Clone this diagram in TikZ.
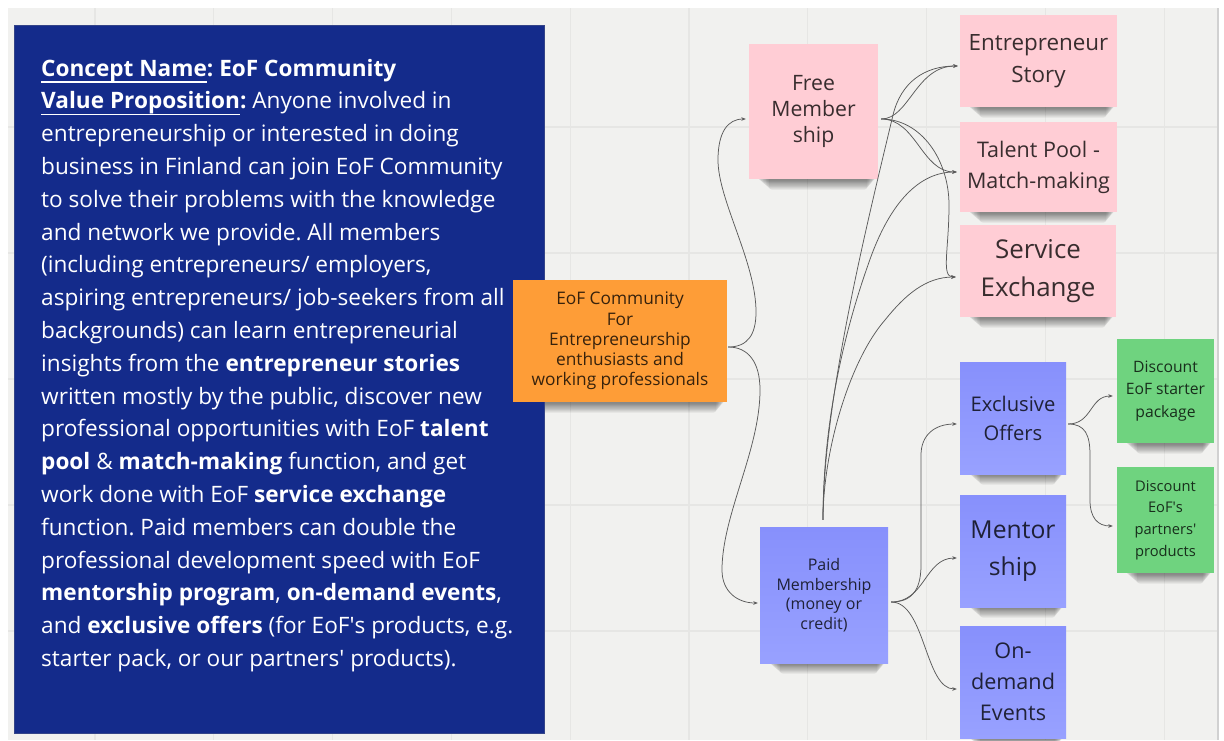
\documentclass[tikz,border=0pt]{standalone}
\usepackage{fontspec}
\setmainfont{Open Sans}
\usetikzlibrary{arrows.meta}

\definecolor{canvasbg}{HTML}{F1F1EF}
\definecolor{gridc}{HTML}{E6E6E4}
\definecolor{conceptblue}{HTML}{142B8B}
\definecolor{notepink}{HTML}{FFCDD5}
\definecolor{noteorange}{HTML}{FE9D37}
\definecolor{purpletop}{HTML}{8790FC}
\definecolor{purplebot}{HTML}{98A1FF}
\definecolor{notegreen}{HTML}{6FD37F}
\definecolor{connc}{HTML}{5A5A5A}

\pgfdeclarelayer{canvas}
\pgfdeclarelayer{shadow}
\pgfsetlayers{canvas,shadow,main}

% thick underline under a word group
\newcommand\ulbar[1]{\setbox0=\hbox{#1}\rlap{\rule[-6.5pt]{\wd0}{1.7pt}}\box0}

% soft drop shadow along the lower edge of a sticky note
\newcommand\dropshadow[1]{%
  \begin{pgfonlayer}{shadow}
    \foreach \k in {1,...,8}{
      \fill[black, opacity=0.065, rounded corners=3pt]
        ([xshift={8pt+\k*1.5pt}, yshift=20pt]#1.south west) rectangle
        ([xshift={-2pt-\k*1.1pt}, yshift={-\k*1.3pt}]#1.south east);
    }
  \end{pgfonlayer}}

\tikzset{
  note/.style={rectangle, inner sep=0pt, align=center, text=black, text opacity=0.78},
  pinknote/.style={note, fill=notepink},
  orangenote/.style={note, fill=noteorange},
  purplenote/.style={note, top color=purpletop, bottom color=purplebot},
  greennote/.style={note, fill=notegreen},
  bluetext/.style={inner sep=0pt, text=white, font=\fontsize{22.6}{32.8}\selectfont},
  conn/.style={draw=connc, line width=0.75pt, -{Stealth[length=4.5pt,width=3.6pt]}},
}

\begin{document}
\frenchspacing
\begin{tikzpicture}[x=1pt, y=-1pt]
\useasboundingbox (0,0) rectangle (1224,740);

% whiteboard canvas with its grid
\begin{pgfonlayer}{canvas}
  \fill[white] (0,0) rectangle (1224,740);
  \fill[canvasbg] (8,8) rectangle (1217,740);
  \foreach \gx in {0,...,9}
    \draw[gridc, line width=1.1pt] ({95+\gx*118.8},8) -- ({95+\gx*118.8},740);
  \foreach \gy in {0,...,4}
    \draw[gridc, line width=1.1pt] (8,{127+\gy*126}) -- (1217,{127+\gy*126});
  \draw[black!18, line width=2pt] (1218,8) -- (1218,740);
\end{pgfonlayer}

% concept description
\node[fill=conceptblue, draw=conceptblue!70!gray, line width=0.8pt,
      minimum width=530pt, minimum height=708pt, inner sep=0pt] (concept) at (279,379) {};
\foreach \txt [count=\i from 0] in {
  {\ulbar{\textbf{Concept Name}}\textbf{: EoF Community}},
  {\ulbar{\textbf{Value Proposition}}\textbf{:} Anyone involved in},
  {entrepreneurship or interested in doing},
  {business in Finland can join EoF Community},
  {to solve their problems with the knowledge},
  {and network we provide. All members},
  {(including entrepreneurs/ employers,},
  {aspiring entrepreneurs/ job-seekers from all},
  {backgrounds) can learn entrepreneurial},
  {insights from the \textbf{entrepreneur stories}},
  {written mostly by the public, discover new},
  {professional opportunities with EoF \textbf{talent}},
  {\textbf{pool} \& \textbf{match-making} function, and get},
  {work done with EoF \textbf{service exchange}},
  {function. Paid members can double the},
  {professional development speed with EoF},
  {\textbf{mentorship program}, \textbf{on-demand events},},
  {and \textbf{exclusive offers} (for EoF\textquotesingle s products, e.g.},
  {starter pack, or our partners\textquotesingle{} products).}
}{
  \node[bluetext, anchor=base west] (cline\i) at (41,{76+\i*32.8}) {\txt};
}

% sticky notes
\node[orangenote, minimum width=214pt, minimum height=122pt,
      font=\fontsize{17.3}{20.2}\selectfont] (community) at (620,341)
      {EoF Community\\For\\Entrepreneurship\\enthusiasts and\\working professionals};

\node[pinknote, minimum width=129pt, minimum height=135pt,
      font=\fontsize{21.2}{26}\selectfont] (free) at (813.5,111.5) {Free\\Member\\ship};
\node[pinknote, minimum width=157pt, minimum height=92pt,
      font=\fontsize{22.4}{32}\selectfont] (story) at (1038.5,61) {Entrepreneur\\Story};
\node[pinknote, minimum width=157pt, minimum height=90pt,
      font=\fontsize{21.5}{31}\selectfont] (talent) at (1038.5,167) {Talent Pool -\\Match-making};
\node[pinknote, minimum width=156pt, minimum height=92pt,
      font=\fontsize{25.9}{38}\selectfont] (service) at (1038,271) {Service\\Exchange};

\node[purplenote, minimum width=128pt, minimum height=136pt,
      font=\fontsize{16}{19.5}\selectfont] (paid) at (824,595) {Paid\\Membership\\(money or\\credit)};
\node[purplenote, minimum width=106pt, minimum height=112pt,
      font=\fontsize{20.2}{29}\selectfont] (exclusive) at (1013,418) {Exclusive\\Offers};
\node[purplenote, minimum width=106pt, minimum height=112pt,
      font=\fontsize{24.7}{37}\selectfont] (mentor) at (1013,551) {Mentor\\ship};
\node[purplenote, minimum width=106pt, minimum height=112pt,
      font=\fontsize{21.6}{31}\selectfont] (ondemand) at (1013,682) {On-\\demand\\Events};

\node[greennote, minimum width=97pt, minimum height=104pt,
      font=\fontsize{15.7}{22.5}\selectfont] (starter) at (1165.5,391) {Discount\\EoF starter\\package};
\node[greennote, minimum width=97pt, minimum height=106pt,
      font=\fontsize{14.7}{21.7}\selectfont] (partners) at (1165.5,520)
      {Discount\\EoF\textquotesingle s\\partners\textquotesingle\\products};

\foreach \n in {community,free,story,talent,service,paid,exclusive,mentor,ondemand,starter,partners}
  \dropshadow{\n};

% connectors from the community
\draw[conn] ([shift={(1pt,-6pt)}]community.east)
  .. controls +(20,0) and +(0,22) .. (756,312)
  .. controls +(0,-50) and +(0,40) .. (718,160)
  .. controls +(0,-28) and +(-18,0) .. ([shift={(-3pt,-7.5pt)}]free.west);
\draw[conn] ([shift={(1pt,-6pt)}]community.east)
  .. controls +(20,0) and +(0,-28) .. (760,390)
  .. controls +(0,60) and +(0,-55) .. (722,570)
  .. controls +(0,22) and +(-20,0) .. ([shift={(-2pt,-8pt)}]paid.west);

% free membership benefits
\draw[conn] ([shift={(3pt,-7.5pt)}]free.east)
  .. controls +(28,0) and +(-42,0) .. ([shift={(-2pt,-5pt)}]story.west);
\draw[conn] ([shift={(3pt,-7.5pt)}]free.east)
  .. controls +(35,0) and +(-35,0) .. ([shift={(-3pt,-5pt)}]talent.west);
\draw[conn] ([shift={(3pt,-7.5pt)}]free.east)
  .. controls +(40,0) and +(0,-45) .. (949,205)
  .. controls +(0,45) and +(-15,0) .. ([shift={(-4pt,-6pt)}]service.west);

% paid membership also includes the free benefits
\draw[conn] ([shift={(-1pt,7pt)}]paid.north)
  .. controls +(0,-120) and +(-25,105) .. (893,115)
  .. controls +(8,-33) and +(-33,0) .. ([shift={(-2pt,-5pt)}]story.west);
\draw[conn] ([shift={(-1pt,7pt)}]paid.north)
  .. controls +(0,-100) and +(-23,65) .. (868,265)
  .. controls +(22,-65) and +(-36,0) .. ([shift={(-3pt,-5pt)}]talent.west);
\draw[conn] ([shift={(-1pt,7pt)}]paid.north)
  .. controls +(0,-70) and +(-35,40) .. (885,320)
  .. controls +(20,-25) and +(-30,0) .. ([shift={(-4pt,-6pt)}]service.west);

% paid membership benefits
\draw[conn] ([shift={(3pt,-7pt)}]paid.east)
  .. controls +(19,0) and +(0,27) .. (921,565) -- (921,455)
  .. controls +(0,-20) and +(-22,0) .. ([shift={(-3pt,-6pt)}]exclusive.west);
\draw[conn] ([shift={(3pt,-7pt)}]paid.east)
  .. controls +(34,0) and +(-32,0) .. ([shift={(-3pt,-7pt)}]mentor.west);
\draw[conn] ([shift={(3pt,-7pt)}]paid.east)
  .. controls +(34,0) and +(-32,0) .. ([shift={(-3pt,-7pt)}]ondemand.west);

% exclusive offers
\draw[conn] ([shift={(2pt,-6pt)}]exclusive.east)
  .. controls +(24,0) and +(-23,0) .. ([shift={(-4pt,-5pt)}]starter.west);
\draw[conn] ([shift={(2pt,-6pt)}]exclusive.east)
  .. controls +(17,0) and +(0,-20) .. (1090,455) -- (1090,500)
  .. controls +(0,18) and +(-15,0) .. ([shift={(-4pt,-6pt)}]partners.west);

\end{tikzpicture}
\end{document}
